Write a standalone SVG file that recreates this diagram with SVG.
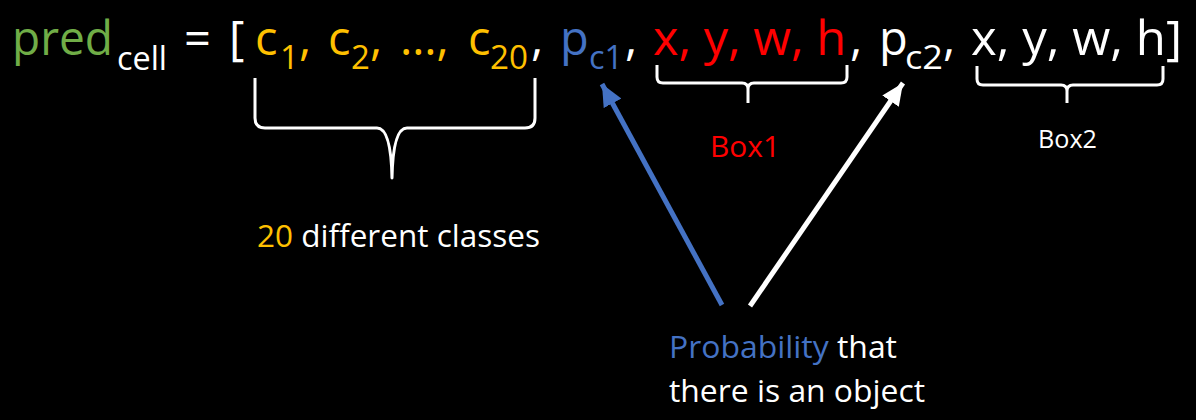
<svg xmlns="http://www.w3.org/2000/svg" width="1196" height="420" viewBox="0 0 1196 420">
<style>
text{font-family:"Open Sans","Liberation Sans",sans-serif;}
.m{font-size:47px;}
.s{font-size:33px;}
.g{fill:#70AD47;}
.o{fill:#FFC000;}
.b{fill:#4472C4;}
.r{fill:#FF0000;}
.w{fill:#FFFFFF;}
.brace{fill:none;stroke:#FFFFFF;stroke-width:3;stroke-linejoin:round;}
</style>
<defs>
<marker id="ahb" markerUnits="userSpaceOnUse" markerWidth="24" markerHeight="20" refX="22" refY="10" orient="auto">
<path d="M0,0 L22,10 L0,20 Z" fill="#4472C4"/>
</marker>
<marker id="ahw" markerUnits="userSpaceOnUse" markerWidth="24" markerHeight="20" refX="22" refY="10" orient="auto">
<path d="M0,0 L22,10 L0,20 Z" fill="#FFFFFF"/>
</marker>
</defs>
<rect width="1196" height="420" fill="#000000"/>
<g id="formula">
<text class="m g" x="12" y="55" textLength="101" lengthAdjust="spacingAndGlyphs">pred</text>
<text class="s w" x="117" y="70" textLength="50" lengthAdjust="spacingAndGlyphs">cell</text>
<text class="m w" x="184" y="55">=</text>
<text class="m w" x="229" y="55">[</text>
<text class="m o" x="255" y="55">c</text>
<text class="s o" x="280" y="69">1</text>
<text class="m o" x="299" y="55">,</text>
<text class="m o" x="328" y="55">c</text>
<text class="s o" x="351" y="69">2</text>
<text class="m o" x="370" y="55">,</text>
<text class="m o" x="400" y="55">…,</text>
<text class="m o" x="468" y="55">c</text>
<text class="s o" x="490" y="69" textLength="38" lengthAdjust="spacingAndGlyphs">20</text>
<text class="m w" x="531" y="55">,</text>
<text class="m b" x="560" y="55">p</text>
<text class="s b" x="589" y="69" textLength="34" lengthAdjust="spacingAndGlyphs">c1</text>
<text class="m w" x="625" y="55">,</text>
<text class="m r" x="653" y="55" textLength="193" lengthAdjust="spacingAndGlyphs">x, y, w, h</text>
<text class="m w" x="850" y="55">,</text>
<text class="m w" x="879" y="55">p</text>
<text class="s w" x="905" y="69" textLength="38" lengthAdjust="spacingAndGlyphs">c2</text>
<text class="m w" x="943" y="55">,</text>
<text class="m w" x="971" y="55" textLength="211" lengthAdjust="spacingAndGlyphs">x, y, w, h]</text>
</g>
<g id="classes-brace">
<path class="brace" d="M255,78 V118 Q255,128 265,128 H377 Q391,128 392,178 Q393,128 407,128 H525 Q535,128 535,118 V78"/>
<text x="257" y="247" font-size="31" textLength="283" lengthAdjust="spacingAndGlyphs"><tspan class="o">20</tspan><tspan class="w"> different classes</tspan></text>
</g>
<g id="box1">
<path class="brace" d="M657,65 V77 Q657,83 663,83 H742 Q748,83 748,89 V103 M748,89 Q748,83 754,83 H841 Q847,83 847,77 V65"/>
<text class="r" x="710" y="157" font-size="30" textLength="70" lengthAdjust="spacingAndGlyphs">Box1</text>
</g>
<g id="box2">
<path class="brace" d="M977,66 V79 Q977,85 983,85 H1061 Q1067,85 1067,91 V103 M1067,91 Q1067,85 1073,85 H1157 Q1163,85 1163,79 V66"/>
<text class="w" x="1038" y="148" font-size="25" textLength="59" lengthAdjust="spacingAndGlyphs">Box2</text>
</g>
<g id="probability">
<text x="669" y="358" font-size="31" textLength="228" lengthAdjust="spacingAndGlyphs"><tspan class="b">Probability</tspan><tspan class="w"> that</tspan></text>
<text class="w" x="669" y="402" font-size="31" textLength="256" lengthAdjust="spacingAndGlyphs">there is an object</text>
</g>
<g id="connectors">
<line x1="722" y1="305" x2="602" y2="84" stroke="#4472C4" stroke-width="5" marker-end="url(#ahb)"/>
<line x1="750" y1="306" x2="903" y2="83" stroke="#FFFFFF" stroke-width="5" marker-end="url(#ahw)"/>
</g>
</svg>
